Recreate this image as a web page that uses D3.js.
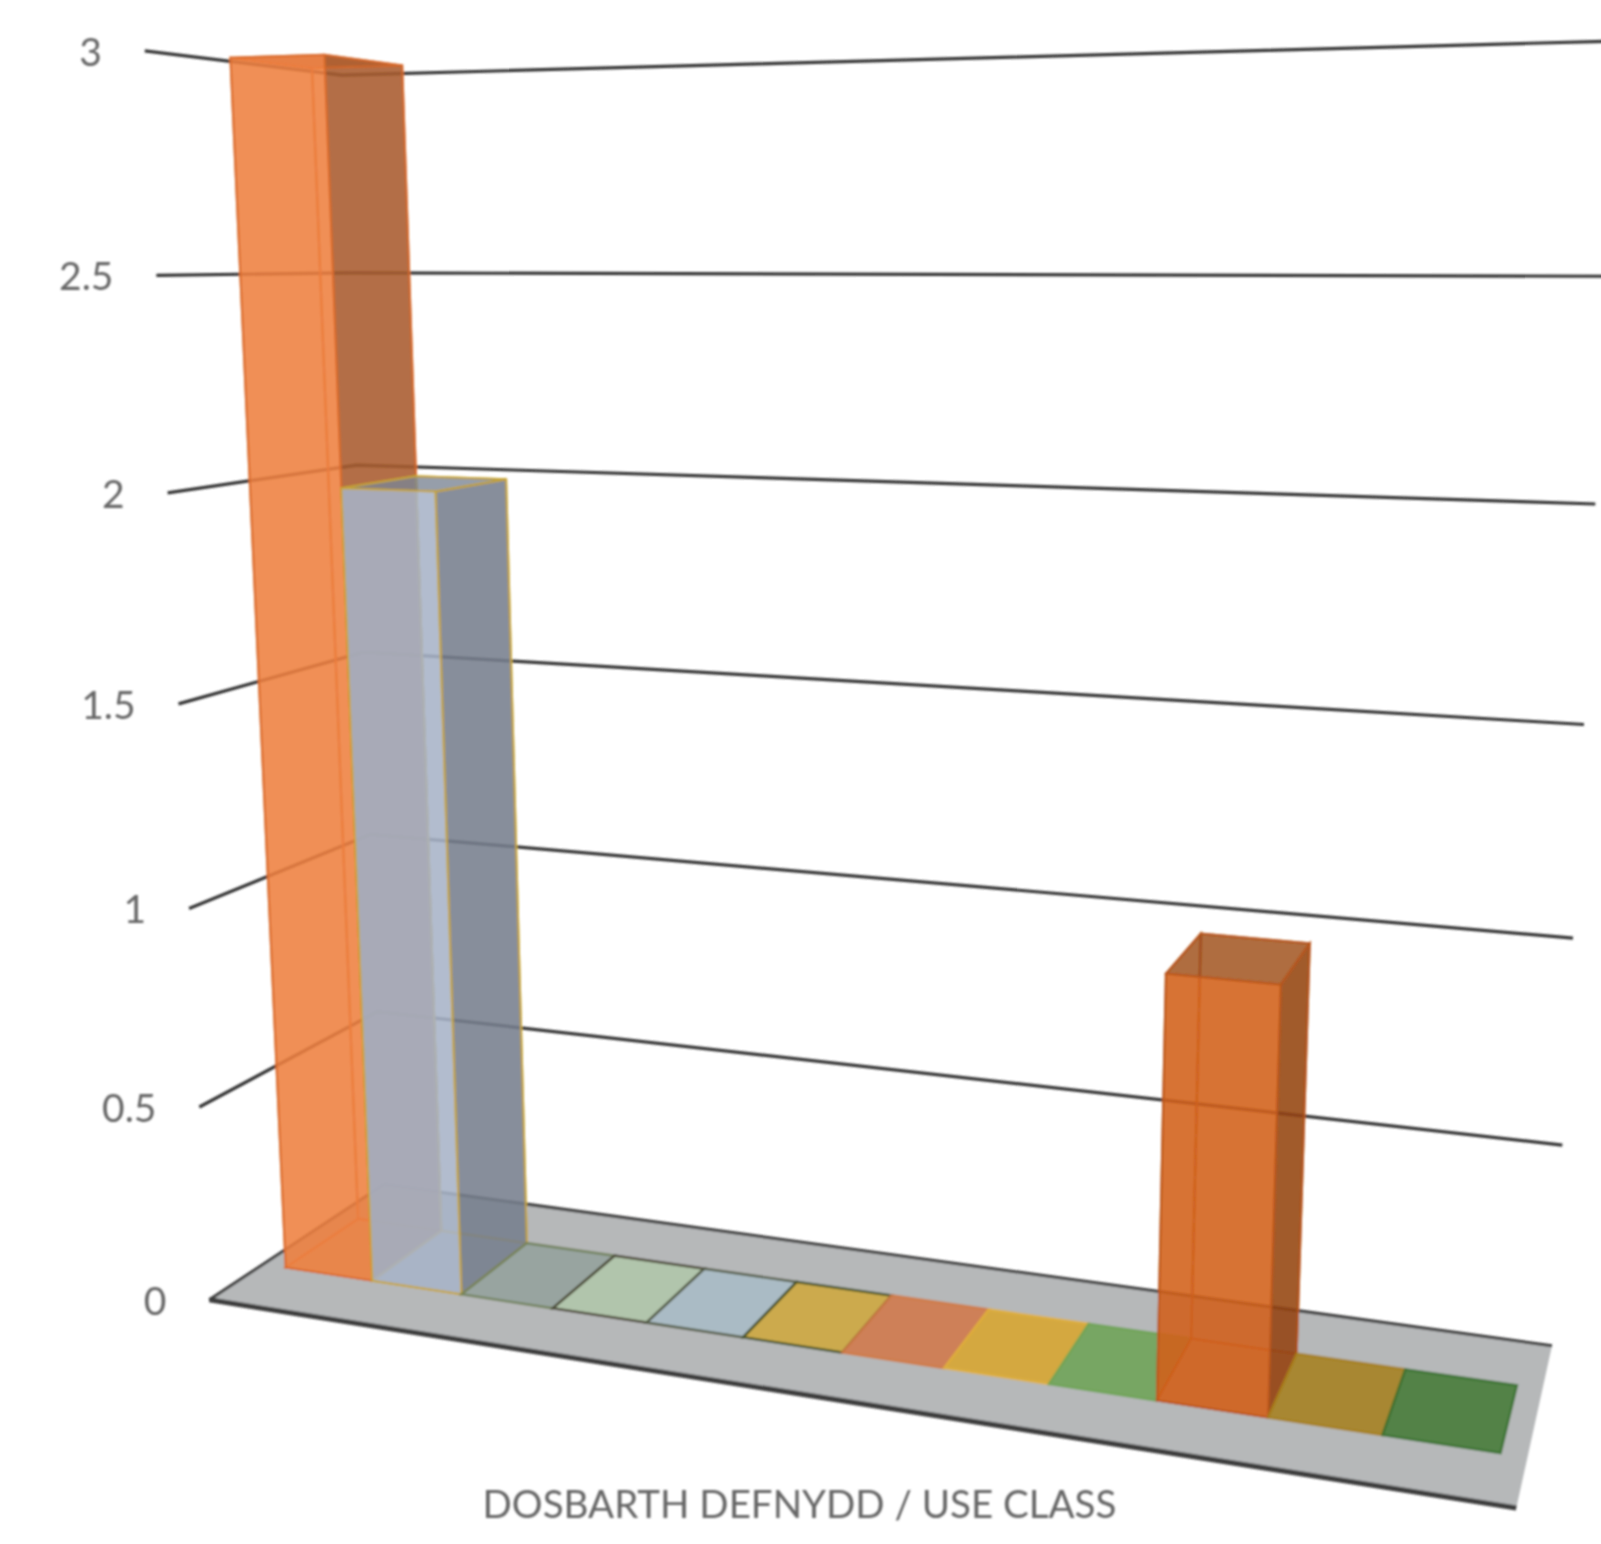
<!DOCTYPE html>
<html><head><meta charset="utf-8">
<style>html,body{margin:0;padding:0;background:#fff;overflow:hidden}svg{display:block}text{font-family:Lato,"Open Sans",sans-serif;fill:#666}</style>
<script src="https://cdn.jsdelivr.net/npm/d3@7"></script></head><body>
<script>
const categories = ["A1","A2","A3","B1","B2","B8","C1","C2","C3","D1","D2","Sui"];
const values = [3,2,0,0,0,0,0,0,0,1,0,0];
const tickValues = [0,0.5,1,1.5,2,2.5,3];
const tickLabels = ["0","0.5","1","1.5","2","2.5","3"];
const axisTitle = "DOSBARTH DEFNYDD / USE CLASS";
const fills = ["#ee8040","#a8b4c8","#94a09c","#b0c6aa","#a9bbc6","#cfa73f","#d2784a","#d8a52f","#6ea356","#d2601a","#a67f1f","#447a36"];
const strokes = ["#d8682a","#c9a531","#6f7f58","#3f3c2a","#4e5640","#3d4b22","#d07a45","#e0b040","#6ea356","#b9561c","#a67f1f","#3a7030"];
const S = 1601/1568;
// camera calibration, read at shrunk scale: floor corners, then wall tick ends
const floorFL=[205,1273], floorFR=[1485,1477], floorBR=[1520,1318], floorBL=[376,1160];
const cal = [[0,0,3,143,47],[0,0,3,143,47],[0,0,2,165,482],[0,0,1,185,890],[0,1,3,333,90],[0,1,2,350,465],[0,1,1,363,824],
 [1,1,3,1583,24],[1,1,2,1563,484],[1,1,1,1543,915]];

const [x0,y0]=floorFL.map(d=>d*S),[x1,y1]=floorFR.map(d=>d*S),[x2,y2]=floorBR.map(d=>d*S),[x3,y3]=floorBL.map(d=>d*S);
const dx1=x1-x2,dx2=x3-x2,sx=x0-x1+x2-x3,dy1=y1-y2,dy2=y3-y2,sy=y0-y1+y2-y3,den=dx1*dy2-dx2*dy1;
const g=(sx*dy2-dx2*sy)/den,h=(dx1*sy-sx*dy1)/den;
const a=x1-x0+g*x1,b=x3-x0+h*x3,c=x0,d_=y1-y0+g*y1,e=y3-y0+h*y3,f=y0;
// least squares for the vertical column of the projection
const N=[[0,0,0],[0,0,0],[0,0,0]],R=[0,0,0];
cal.forEach(([u,w,v,px,py])=>{
  const X=a*u+b*w+c,Y=d_*u+e*w+f,W=g*u+h*w+1,sxx=px*S,syy=py*S;
  [[[v,0,-sxx*v],sxx*W-X],[[0,v,-syy*v],syy*W-Y]].forEach(([r,t])=>{
    for(let i=0;i<3;i++){R[i]+=r[i]*t;for(let j=0;j<3;j++)N[i][j]+=r[i]*r[j];}
  });
});
const det=m=>m[0][0]*(m[1][1]*m[2][2]-m[1][2]*m[2][1])-m[0][1]*(m[1][0]*m[2][2]-m[1][2]*m[2][0])+m[0][2]*(m[1][0]*m[2][1]-m[1][1]*m[2][0]);
const D=det(N);
const [qx,qy,qw]=[0,1,2].map(i=>det(N.map((row,k)=>row.map((val,j)=>j===i?R[k]:val)))/D);
const project=(u,w,v)=>{const W=g*u+h*w+1+v*qw;return [(a*u+b*w+c+v*qx)/W,(d_*u+e*w+f+v*qy)/W];};

const xScale=d3.scaleBand().domain(categories).range([0.021,0.982]).paddingInner(0);
const yScale=d3.scaleLinear().domain([0,3]).range([0,3]);
const depth=d3.scaleLinear().domain([0,1]).range([0.285,0.705]);

const svg=d3.select("body").append("svg").attr("width",1601).attr("height",1544);
const defs=svg.append("defs");
defs.append("filter").attr("id","soft").append("feGaussianBlur").attr("stdDeviation",0.9);
const root=svg.append("g").attr("filter","url(#soft)");
const poly=pts=>pts.map(p=>p.map(n=>n.toFixed(1)).join(",")).join(" ");

// floor
root.append("polygon").attr("points",poly([project(0,0,0),project(1,0,0),project(1,1,0),project(0,1,0)])).attr("fill","#b6b8b9");
const line=d3.line();
root.append("path").attr("d",line([project(0,1,0),project(0,0,0)])).attr("fill","none").attr("stroke","#3c3c3c").attr("stroke-width",3);
root.append("path").attr("d",line([project(0,0,0),project(1,0,0)])).attr("fill","none").attr("stroke","#3c3c3c").attr("stroke-width",5);
root.append("path").attr("d",line([project(0,1,0),project(1,1,0)])).attr("fill","none").attr("stroke","#3c3c3c").attr("stroke-width",3);

// gridlines
const grid=root.append("g");
tickValues.filter(t=>t>0).forEach(t=>{
  const v=yScale(t);
  grid.append("path").attr("d",line([project(0,0,v),project(0,1,v),project(1,1,v)]))
    .attr("fill","none").attr("stroke","#333").attr("stroke-width",3.2);
});

// bars
const bars=root.append("g");
categories.forEach((cat,i)=>{
  const u0=xScale(cat),u1=u0+xScale.bandwidth(),w0=depth(0),w1=depth(1),v=yScale(values[i]);
  const P=(u,w,y)=>project(u,w,y);
  const face=(pts,fill,op,stroke,sw=2)=>bars.append("polygon").attr("points",poly(pts)).attr("fill",fill).attr("fill-opacity",op)
     .attr("stroke",stroke).attr("stroke-width",sw).attr("stroke-opacity",0.85);
  const base=d3.color(fills[i]);
  const bottom=[P(u0,w0,0),P(u1,w0,0),P(u1,w1,0),P(u0,w1,0)];
  if(values[i]===0){ face(bottom,base,0.88,strokes[i],2.6); return; }
  face(bottom,base.darker(0.1),0.3,strokes[i]);
  face([P(u0,w1,0),P(u1,w1,0),P(u1,w1,v),P(u0,w1,v)],base.darker(0.3),0.2,strokes[i]);
  face([P(u0,w0,0),P(u0,w1,0),P(u0,w1,v),P(u0,w0,v)],base.darker(0.3),0.2,strokes[i]);
  face([P(u1,w0,0),P(u1,w1,0),P(u1,w1,v),P(u1,w0,v)],base.darker(1.0),0.85,strokes[i]);
  face([P(u0,w0,v),P(u1,w0,v),P(u1,w1,v),P(u0,w1,v)],base.darker(0.9),0.75,strokes[i]);
  face([P(u0,w0,0),P(u1,w0,0),P(u1,w0,v),P(u0,w0,v)],base,0.85,strokes[i]);
});

// labels
const labels=svg.append("g").attr("filter","url(#soft)");
tickValues.forEach((t,i)=>{
  const [px,py]=project(0,0,yScale(t));
  labels.append("text").attr("x",px-42*S).attr("y",py+5*S).attr("text-anchor","end").attr("dominant-baseline","middle")
    .attr("font-size",39).text(tickLabels[i]);
});
labels.append("text").attr("x",783*S).attr("y",1487*S).attr("text-anchor","middle").attr("font-size",38.5).text(axisTitle);
</script></body></html>
